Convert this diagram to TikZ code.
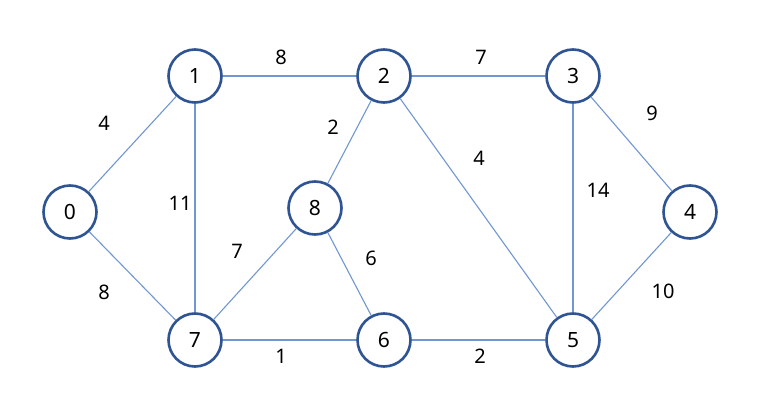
\documentclass[tikz,border=0pt]{standalone}
\usepackage{fontspec}
\setmainfont{Noto Sans}
\definecolor{ringblue}{HTML}{2F5493}
\definecolor{edgeblue}{HTML}{7197D2}
\begin{document}
\begin{tikzpicture}[x=1pt,y=-1pt,
  vtx/.style={circle,draw=ringblue,line width=2.6pt,fill=white,minimum size=53pt,inner sep=0pt,font=\fontsize{21}{25}\selectfont},
  edge/.style={draw=edgeblue,line width=1.1pt},
  wt/.style={font=\fontsize{20}{24}\selectfont,inner sep=0pt}]
\useasboundingbox[fill=white] (0,0) rectangle (763,406);
\node[vtx] (v0) at (70,212) {0};
\node[vtx] (v1) at (195,76) {1};
\node[vtx] (v2) at (384,76) {2};
\node[vtx] (v3) at (573,76) {3};
\node[vtx] (v4) at (690,212) {4};
\node[vtx] (v5) at (573,340) {5};
\node[vtx] (v6) at (384,340) {6};
\node[vtx] (v7) at (195,340) {7};
\node[vtx] (v8) at (315,208) {8};
\path[edge] (v0) -- (v1);
\path[edge] (v0) -- (v7);
\path[edge] (v1) -- (v2);
\path[edge] (v1) -- (v7);
\path[edge] (v2) -- (v3);
\path[edge] (v2) -- (v8);
\path[edge] (v2) -- (v5);
\path[edge] (v3) -- (v4);
\path[edge] (v3) -- (v5);
\path[edge] (v4) -- (v5);
\path[edge] (v7) -- (v8);
\path[edge] (v8) -- (v6);
\path[edge] (v7) -- (v6);
\path[edge] (v6) -- (v5);
\node[wt] (w01) at (104,123) {4};
\node[wt] (w07) at (104,292) {8};
\node[wt] (w12) at (281,57) {8};
\node[wt] (w17) at (180,203) {11};
\node[wt] (w23) at (481,57) {7};
\node[wt] (w28) at (333,127) {2};
\node[wt] (w25) at (479,158) {4};
\node[wt] (w34) at (652,113) {9};
\node[wt] (w35) at (598,190) {14};
\node[wt] (w45) at (663,291) {10};
\node[wt] (w78) at (237,251) {7};
\node[wt] (w86) at (371,258) {6};
\node[wt] (w76) at (281,356) {1};
\node[wt] (w65) at (480,356) {2};
\end{tikzpicture}
\end{document}
